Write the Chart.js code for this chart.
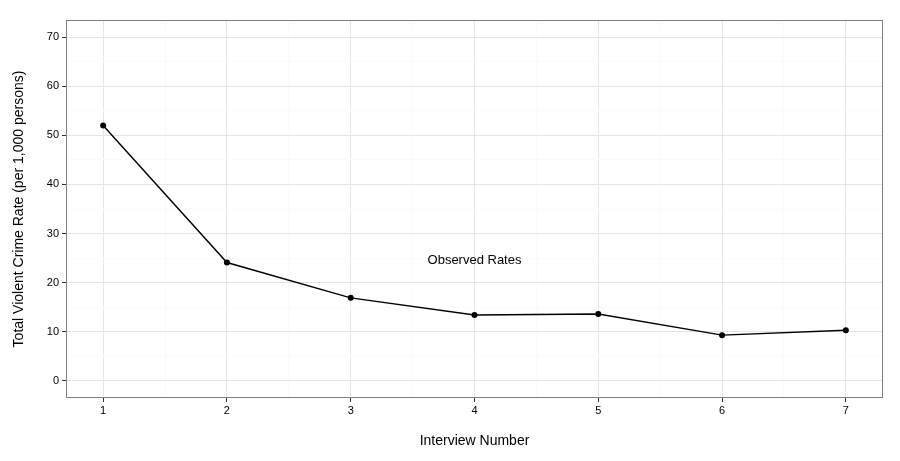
<!DOCTYPE html>
<html>
<head>
<meta charset="utf-8">
<script src="https://cdn.jsdelivr.net/npm/chart.js@4"></script>
<style>
  html, body { margin: 0; padding: 0; background: #fff; }
  #wrap { width: 900px; height: 461px; }
</style>
</head>
<body>
<div id="wrap"><canvas id="myChart"></canvas></div>
<script>
const interviews = [1, 2, 3, 4, 5, 6, 7];
const rates = [52.0, 24.1, 16.9, 13.4, 13.6, 9.3, 10.3];
const yTicks = [0, 5, 10, 15, 20, 25, 30, 35, 40, 45, 50, 55, 60, 65, 70];
const xTicks = [1, 1.5, 2, 2.5, 3, 3.5, 4, 4.5, 5, 5.5, 6, 6.5, 7];
const label = { text: 'Observed Rates', x: 4, y: 24.6 };

const font = "'Liberation Sans', Arial, sans-serif";

const panel = {
    id: 'panel',
    afterDatasetsDraw(chart) {
        const { ctx, chartArea: a, scales } = chart;
        ctx.save();
        ctx.strokeStyle = '#7f7f7f';
        ctx.lineWidth = 1;
        ctx.strokeRect(a.left + 0.5, a.top + 0.5, a.right - a.left - 1, a.bottom - a.top - 1);
        ctx.fillStyle = '#000';
        ctx.font = '13px ' + font;
        ctx.textAlign = 'center';
        ctx.textBaseline = 'middle';
        ctx.fillText(label.text, scales.x.getPixelForValue(label.x), scales.y.getPixelForValue(label.y));
        ctx.restore();
    }
};

const ctx = document.getElementById('myChart');
const chart = new Chart(ctx, {
    type: 'line',
    data: {
        datasets: [{
            data: interviews.map((x, i) => ({ x: x, y: rates[i] })),
            borderColor: '#000',
            backgroundColor: '#000',
            borderWidth: 1.4,
            pointRadius: 2.3,
            pointHoverRadius: 2.3,
            tension: 0
        }]
    },
    options: {
        responsive: true,
        maintainAspectRatio: false,
        animation: false,
        layout: { padding: { top: 20, right: 17, left: 0, bottom: 0 } },
        plugins: { legend: { display: false }, tooltip: { enabled: false } },
        scales: {
            x: {
                type: 'linear',
                min: 0.7,
                max: 7.3,
                afterBuildTicks: s => { s.ticks = xTicks.map(v => ({ value: v })); },
                afterFit: s => { s.height = 63; },
                border: { display: false },
                grid: {
                    color: c => (c.tick && c.tick.value % 1 === 0) ? '#e5e5e5' : '#fafafa',
                    tickColor: c => (c.tick && c.tick.value % 1 === 0) ? '#333' : 'rgba(0,0,0,0)',
                    tickLength: 4,
                    lineWidth: 1
                },
                ticks: {
                    color: '#000',
                    font: { family: font, size: 11 },
                    padding: 2,
                    maxRotation: 0,
                    autoSkip: false,
                    callback: v => v % 1 === 0 ? String(v) : ''
                },
                title: {
                    display: true,
                    text: 'Interview Number',
                    color: '#000',
                    font: { family: font, size: 14 },
                    padding: { top: 0, bottom: 11 }
                }
            },
            y: {
                min: -3.5,
                max: 73.5,
                afterBuildTicks: s => { s.ticks = yTicks.map(v => ({ value: v })); },
                afterFit: s => { s.width = 66; },
                border: { display: false },
                grid: {
                    color: c => (c.tick && c.tick.value % 10 === 0) ? '#e5e5e5' : '#fafafa',
                    tickColor: c => (c.tick && c.tick.value % 10 === 0) ? '#333' : 'rgba(0,0,0,0)',
                    tickLength: 4,
                    lineWidth: 1
                },
                ticks: {
                    color: '#000',
                    font: { family: font, size: 11 },
                    padding: 3,
                    autoSkip: false,
                    callback: v => v % 10 === 0 ? String(v) : ''
                },
                title: {
                    display: true,
                    text: 'Total Violent Crime Rate (per 1,000 persons)',
                    color: '#000',
                    font: { family: font, size: 14 },
                    padding: { top: 11, bottom: 0 }
                }
            }
        }
    },
    plugins: [panel]
});
</script>
</body>
</html>
